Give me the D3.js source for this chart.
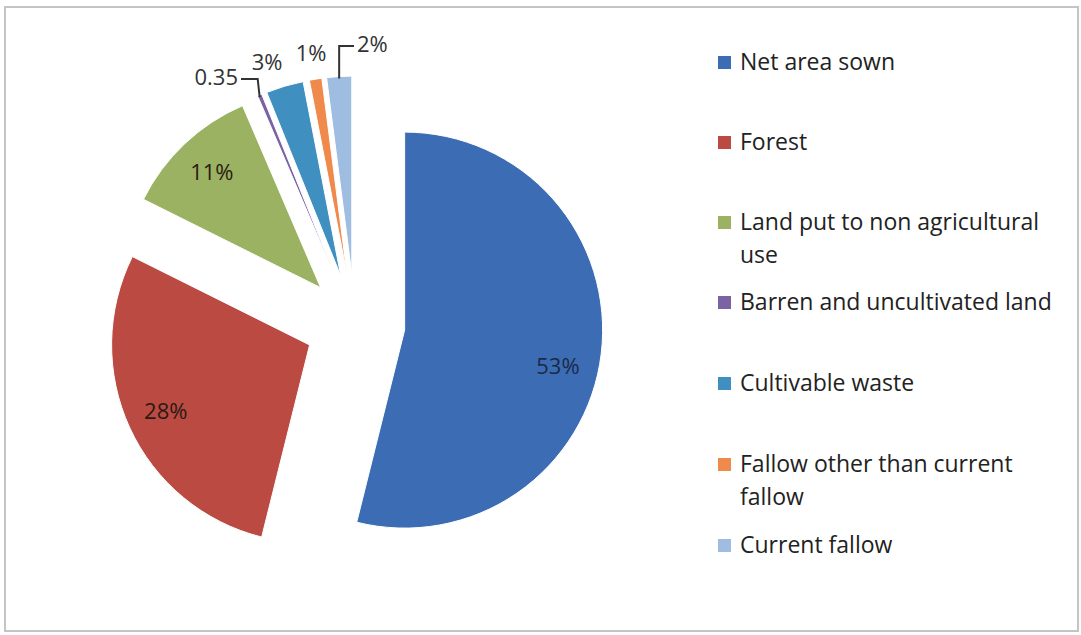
<!DOCTYPE html>
<html>
<head>
<meta charset="utf-8">
<script src="https://cdn.jsdelivr.net/npm/d3@7"></script>
<style>
  body { margin: 0; background: #fff; }
  svg text { font-family: "Open Sans", "Noto Sans", sans-serif; }
</style>
</head>
<body>
<div id="okvir"></div>
<script>
// podatci
const kategorije = ["Net area sown", "Forest", "Land put to non agricultural use",
  "Barren and uncultivated land", "Cultivable waste", "Fallow other than current fallow", "Current fallow"];
const vrijednosti = [53, 28, 11, 0.35, 3, 1, 2];
const oznake = ["53%", "28%", "11%", "0.35", "3%", "1%", "2%"];
const boje = ["#3c6db4", "#bb4a42", "#9bb262", "#7b62a3", "#3f8fc0", "#f08a4c", "#9fbde0"];
// legenda u dva reda gdje treba
const legendaRedovi = [["Net area sown"], ["Forest"], ["Land put to non agricultural", "use"],
  ["Barren and uncultivated land"], ["Cultivable waste"], ["Fallow other than current", "fallow"], ["Current fallow"]];

const sirina = 1081, visina = 635;
const okvir = d3.select("#okvir").append("svg")
  .attr("width", sirina).attr("height", visina);

okvir.append("rect")
  .attr("x", 5).attr("y", 7).attr("width", 1073).attr("height", 624)
  .attr("fill", "none").attr("stroke", "#c4c4c4").attr("stroke-width", 2);

const cx = 355, cy = 324, r = 198, pomak = 50;
const pita = d3.pie().sort(null).value(d => d)(vrijednosti);
const luk = d3.arc().innerRadius(0).outerRadius(r);

const granice = okvir.append("g").attr("transform", `translate(${cx},${cy})`);

const pomakni = d => {
  const a = (d.startAngle + d.endAngle) / 2;
  return [pomak * Math.sin(a), -pomak * Math.cos(a)];
};

granice.selectAll("path.kriska").data(pita).enter().append("path")
  .attr("class", "kriska")
  .attr("transform", d => `translate(${pomakni(d)})`)
  .attr("d", luk)
  .attr("fill", (d, i) => boje[i])
  .attr("stroke", "#fff").attr("stroke-width", 1);

// oznake unutar kriski (velike)
const polumjerOznake = [0.78, 0.8, 0.8];
const pomakOznakeY = [17, 0, 0];
pita.slice(0, 3).forEach((d, i) => {
  const [px, py] = pomakni(d);
  const rr = r * polumjerOznake[i];
  const c = d3.arc().innerRadius(rr).outerRadius(rr).centroid(d);
  granice.append("text")
    .attr("x", px + c[0]).attr("y", py + c[1] + pomakOznakeY[i])
    .attr("text-anchor", "middle").attr("dy", "0.35em")
    .attr("font-size", 22).attr("fill", i === 0 ? "#1a2a4a" : "#2a1a12")
    .text(oznake[i]);
});

// vanjske oznake malih kriski
const vanjske = [
  { i: 3, x: -117, y: -247, anchor: "end", linija: true },
  { i: 4, x: -88, y: -262, anchor: "middle" },
  { i: 5, x: -44, y: -271, anchor: "middle" },
  { i: 6, x: 2, y: -280, anchor: "start", linija: true }
];
vanjske.forEach(o => {
  const d = pita[o.i];
  granice.append("text")
    .attr("x", o.x).attr("y", o.y)
    .attr("text-anchor", o.anchor).attr("dy", "0.35em")
    .attr("font-size", 22).attr("fill", "#333")
    .text(oznake[o.i]);
  if (o.linija) {
    const [px, py] = pomakni(d);
    const a = (d.startAngle + d.endAngle) / 2;
    const vx = px + r * Math.sin(a), vy = py - r * Math.cos(a);
    const pocX = o.anchor === "end" ? o.x + 3 : o.x - 3;
    granice.append("polyline")
      .attr("points", `${pocX},${o.y + 2} ${vx - (o.anchor === "end" ? 2 : 0)},${o.y + 2} ${vx},${vy + 2}`)
      .attr("fill", "none").attr("stroke", "#333").attr("stroke-width", 2);
  }
});

// legenda
const legendaY = [62, 142, 222, 302, 383, 464, 545];
const legenda = okvir.append("g");
legendaRedovi.forEach((redovi, i) => {
  legenda.append("rect")
    .attr("x", 718).attr("y", legendaY[i] - 6).attr("width", 13).attr("height", 13)
    .attr("fill", boje[i]);
  redovi.forEach((t, j) => {
    legenda.append("text")
      .attr("x", 740).attr("y", legendaY[i] + j * 33)
      .attr("dy", "0.35em").attr("font-size", 23).attr("fill", "#222")
      .text(t);
  });
});
</script>
</body>
</html>
